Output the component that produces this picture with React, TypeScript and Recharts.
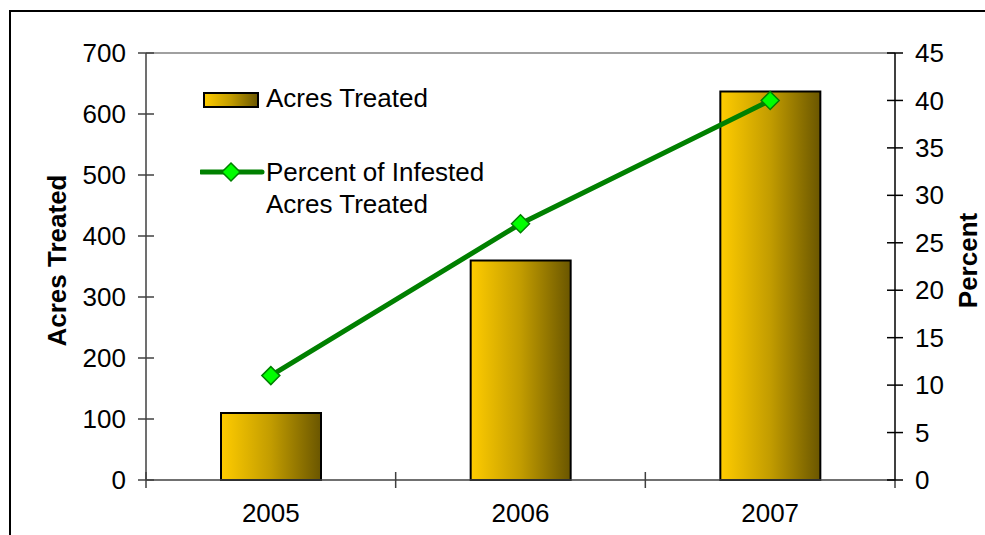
import { ComposedChart, Bar, Line, XAxis, YAxis, Legend } from 'recharts';

// acres treated per season and share of infested acres treated
const years = ['2005', '2006', '2007'];
const acresTreated = [110, 360, 637];
const percentTreated = [11, 27, 40];
const acresTicks = [0, 100, 200, 300, 400, 500, 600, 700];
const percentTicks = [0, 5, 10, 15, 20, 25, 30, 35, 40, 45];

const barName = 'Acres Treated';
const lineName = ['Percent of Infested', 'Acres Treated'];

const data = years.map((year, i) => ({
  year,
  acres: acresTreated[i],
  percent: percentTreated[i],
}));

const FONT = '"Liberation Sans", Arial, sans-serif';
const FONT_SIZE = 26;
const AXIS_GRAY = '#404040';
const LINE_GREEN = '#008000';
const YEAR_LABEL_GAP = 24;

interface TickProps {
  x?: number;
  y?: number;
  index?: number;
  visibleTicksCount?: number;
  payload?: { value: number | string; offset?: number };
}

// tick marks cross the axis, so they are drawn here instead of via tickLine
const LeftTick = ({ x = 0, y = 0, payload }: TickProps) => (
  <g>
    <line x1={x + 12} x2={x + 28} y1={y} y2={y} stroke={AXIS_GRAY} strokeWidth={1.5} />
    <text x={x} y={y} dy="0.35em" textAnchor="end" fontSize={FONT_SIZE} fill="#000" fontFamily={FONT}>
      {payload?.value}
    </text>
  </g>
);

const RightTick = ({ x = 0, y = 0, payload }: TickProps) => (
  <g>
    <line x1={x - 28} x2={x - 12} y1={y} y2={y} stroke="#000" strokeWidth={1.5} />
    <text x={x} y={y} dy="0.35em" textAnchor="start" fontSize={FONT_SIZE} fill="#000" fontFamily={FONT}>
      {payload?.value}
    </text>
  </g>
);

// year label plus the separators at the edges of its band
const YearTick = ({ x = 0, y = 0, payload, index = 0, visibleTicksCount = 0 }: TickProps) => {
  const half = payload?.offset ?? 0;
  const base = y - YEAR_LABEL_GAP;
  const edges = [x - half];
  if (index === visibleTicksCount - 1) edges.push(x + half);
  return (
    <g>
      {edges.map((ex) => (
        <line key={ex} x1={ex} x2={ex} y1={base - 8} y2={base + 8} stroke={AXIS_GRAY} strokeWidth={1.5} />
      ))}
      <text x={x} y={y} dy="0.71em" textAnchor="middle" fontSize={FONT_SIZE} fill="#000" fontFamily={FONT}>
        {payload?.value}
      </text>
    </g>
  );
};

const Diamond = (props: { cx?: number; cy?: number }) => {
  const { cx, cy } = props;
  if (cx == null || cy == null) return null;
  const r = 9;
  return (
    <polygon
      points={`${cx},${cy - r} ${cx + r},${cy} ${cx},${cy + r} ${cx - r},${cy}`}
      fill="#00FF00"
      stroke={LINE_GREEN}
      strokeWidth={1.5}
    />
  );
};

const AxisTitle = ({ viewBox, value, dx }: { viewBox?: any; value: string; dx: number }) => {
  if (!viewBox) return null;
  const cx = viewBox.x + dx;
  const cy = viewBox.y + viewBox.height / 2 - 6;
  return (
    <text
      x={cx}
      y={cy}
      transform={`rotate(-90 ${cx} ${cy})`}
      textAnchor="middle"
      dy="0.35em"
      fontSize={FONT_SIZE}
      fontWeight="bold"
      fill="#000"
      fontFamily={FONT}
    >
      {value}
    </text>
  );
};

const textStyle: React.CSSProperties = {
  position: 'absolute',
  left: 66,
  fontSize: FONT_SIZE,
  lineHeight: '30px',
  whiteSpace: 'nowrap',
  color: '#000',
  fontFamily: FONT,
};

const ChartLegend = () => (
  <div style={{ position: 'relative', width: 300, height: 140 }}>
    <svg width={70} height={110} style={{ position: 'absolute', left: 0, top: 0 }}>
      <rect x={4} y={8} width={54} height={14} fill="url(#barFill)" stroke="#000" strokeWidth={2} />
      <line x1={1} x2={62} y1={87} y2={87} stroke={LINE_GREEN} strokeWidth={5} strokeLinecap="round" />
      <polygon points="31,78 40,87 31,96 22,87" fill="#00FF00" stroke={LINE_GREEN} strokeWidth={1.5} />
    </svg>
    <div style={{ ...textStyle, top: -2 }}>{barName}</div>
    <div style={{ ...textStyle, top: 72 }}>{lineName[0]}</div>
    <div style={{ ...textStyle, top: 104 }}>{lineName[1]}</div>
  </div>
);

export default function App() {
  return (
    <div
      style={{
        position: 'absolute',
        left: 0,
        top: 0,
        width: 985,
        height: 535,
        overflow: 'hidden',
        background: '#fff',
        fontFamily: FONT,
      }}
    >
      <div
        style={{
          position: 'absolute',
          left: 9,
          top: 10,
          width: 1100,
          height: 700,
          borderTop: '2px solid #000',
          borderLeft: '2px solid #000',
        }}
      />
      <ComposedChart
        width={985}
        height={535}
        data={data}
        margin={{ top: 52, right: 0, bottom: 0, left: 0 }}
      >
        <defs>
          <linearGradient id="barFill" x1="0" y1="0" x2="1" y2="0">
            <stop offset="0%" stopColor="#FFCC00" />
            <stop offset="50%" stopColor="#C29C00" />
            <stop offset="100%" stopColor="#6A5600" />
          </linearGradient>
        </defs>
        <XAxis
          xAxisId="year"
          dataKey="year"
          height={55}
          interval={0}
          axisLine={{ stroke: AXIS_GRAY, strokeWidth: 1.5 }}
          tickLine={false}
          tickSize={0}
          tickMargin={YEAR_LABEL_GAP}
          tick={<YearTick />}
        />
        <XAxis
          xAxisId="top"
          orientation="top"
          dataKey="year"
          height={1}
          tick={false}
          tickLine={false}
          axisLine={{ stroke: '#808080', strokeWidth: 1.5 }}
        />
        <YAxis
          yAxisId="left"
          width={146}
          domain={[0, 700]}
          ticks={acresTicks}
          interval={0}
          tickSize={8}
          tickMargin={12}
          tickLine={false}
          axisLine={{ stroke: AXIS_GRAY, strokeWidth: 1.5 }}
          tick={<LeftTick />}
          label={<AxisTitle value="Acres Treated" dx={57} />}
        />
        <YAxis
          yAxisId="right"
          orientation="right"
          width={90}
          domain={[0, 45]}
          ticks={percentTicks}
          interval={0}
          tickSize={8}
          tickMargin={12}
          tickLine={false}
          axisLine={{ stroke: '#000', strokeWidth: 1.5 }}
          tick={<RightTick />}
          label={<AxisTitle value="Percent" dx={73} />}
        />
        <Legend
          layout="horizontal"
          verticalAlign="middle"
          align="center"
          content={<ChartLegend />}
          wrapperStyle={{ left: 200, top: 85, width: 300, height: 140 }}
        />
        <Bar
          xAxisId="year"
          yAxisId="left"
          dataKey="acres"
          name={barName}
          barSize={100}
          fill="url(#barFill)"
          stroke="#000"
          strokeWidth={2}
          isAnimationActive={false}
        />
        <Line
          xAxisId="year"
          yAxisId="right"
          dataKey="percent"
          name={lineName.join(' ')}
          stroke={LINE_GREEN}
          strokeWidth={5}
          dot={<Diamond />}
          activeDot={false}
          isAnimationActive={false}
        />
      </ComposedChart>
    </div>
  );
}
